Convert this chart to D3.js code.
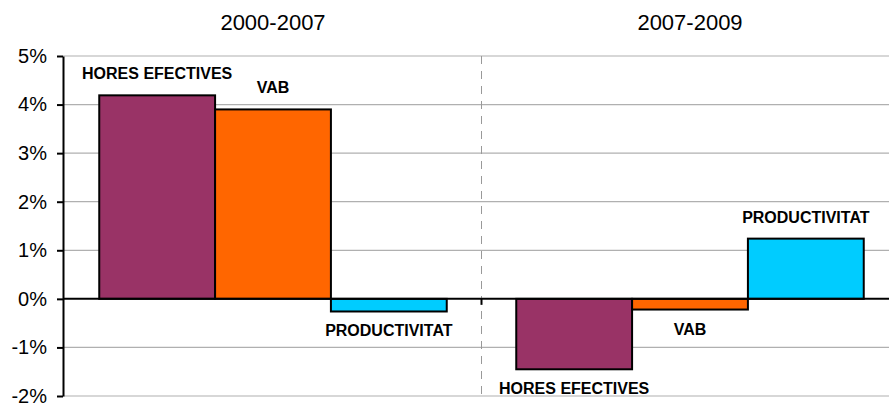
<!DOCTYPE html>
<html>
<head>
<meta charset="utf-8">
<script src="https://cdn.jsdelivr.net/npm/d3@7"></script>
<style>
  body { margin: 0; background: #fff; }
  svg { display: block; font-family: "Liberation Sans", Arial, sans-serif; }
</style>
</head>
<body>
<div id="chart"></div>
<script>
var svgWidth = 889;
var svgHeight = 403;

// data
var periods = ["2000-2007", "2007-2009"];
var series = ["HORES EFECTIVES", "VAB", "PRODUCTIVITAT"];
var values2000_2007 = [4.19, 3.90, -0.26];
var values2007_2009 = [-1.45, -0.22, 1.24];
var colors = ["#993366", "#FF6600", "#00CCFF"];
var yTicks = [-2, -1, 0, 1, 2, 3, 4, 5];

var allValues = [values2000_2007, values2007_2009];
var data = [];
periods.forEach(function(p, i) {
    series.forEach(function(s, j) {
        data.push({ period: p, name: s, value: allValues[i][j], color: colors[j] });
    });
});

var plotLeft = 63, plotRight = 889, plotTop = 56, plotBottom = 396;

var svg = d3.select("#chart")
    .append("svg")
    .attr("width", svgWidth)
    .attr("height", svgHeight);

var x0 = d3.scaleBand()
    .domain(periods)
    .range([64.5, 898.5]);

var x1 = d3.scaleBand()
    .domain(series)
    .range([0, x0.bandwidth()])
    .paddingOuter(0.3);

var y = d3.scaleLinear()
    .domain([-2, 5])
    .range([plotBottom, plotTop]);

var dividerX = x0.range()[0] + x0.bandwidth();

// gridlines
svg.append("g").selectAll("line")
    .data(yTicks.filter(d => d !== 0))
    .enter()
    .append("line")
    .attr("x1", plotLeft)
    .attr("x2", plotRight)
    .attr("y1", d => y(d))
    .attr("y2", d => y(d))
    .attr("stroke", "#b0b0b0")
    .attr("stroke-width", 1.2);

// dashed divider between periods
svg.append("line")
    .attr("x1", dividerX)
    .attr("x2", dividerX)
    .attr("y1", plotTop)
    .attr("y2", plotBottom)
    .attr("stroke", "#999")
    .attr("stroke-width", 1)
    .attr("stroke-dasharray", "8,7");

// bars
svg.append("g").selectAll("rect")
    .data(data)
    .enter()
    .append("rect")
    .attr("x", d => x0(d.period) + x1(d.name))
    .attr("y", d => y(Math.max(0, d.value)))
    .attr("width", x1.bandwidth())
    .attr("height", d => Math.abs(y(d.value) - y(0)))
    .attr("fill", d => d.color)
    .attr("stroke", "#000")
    .attr("stroke-width", 2);

// zero line
svg.append("line")
    .attr("x1", plotLeft)
    .attr("x2", plotRight)
    .attr("y1", y(0))
    .attr("y2", y(0))
    .attr("stroke", "#000")
    .attr("stroke-width", 2);

// tick on zero line at the divider
svg.append("line")
    .attr("x1", dividerX)
    .attr("x2", dividerX)
    .attr("y1", y(0))
    .attr("y2", y(0) + 6)
    .attr("stroke", "#000")
    .attr("stroke-width", 2);

// y axis
var leftAxis = d3.axisLeft(y)
    .tickValues(yTicks)
    .tickFormat(d => d + "%")
    .tickSizeOuter(0)
    .tickSizeInner(6)
    .tickPadding(10);

var yAxis = svg.append("g")
    .attr("transform", `translate(${plotLeft}, 0)`)
    .call(leftAxis);
yAxis.select(".domain").attr("stroke", "#000").attr("stroke-width", 2);
yAxis.selectAll(".tick line").attr("stroke", "#000").attr("stroke-width", 2);
yAxis.selectAll(".tick text")
    .attr("font-size", "20px")
    .attr("font-family", "Liberation Sans, Arial, sans-serif")
    .attr("fill", "#000");

// period labels
svg.append("g").selectAll("text")
    .data(periods)
    .enter()
    .append("text")
    .attr("x", d => x0(d) + x0.bandwidth() / 2)
    .attr("y", 30)
    .attr("text-anchor", "middle")
    .attr("font-size", "22px")
    .attr("fill", "#000")
    .text(d => d);

// bar labels
svg.append("g").selectAll("text")
    .data(data)
    .enter()
    .append("text")
    .attr("x", d => x0(d.period) + x1(d.name) + x1.bandwidth() / 2)
    .attr("y", d => d.value >= 0 ? y(d.value) - 16 : y(d.value) + 25)
    .attr("text-anchor", "middle")
    .attr("font-size", "16px")
    .attr("font-weight", "bold")
    .attr("fill", "#000")
    .text(d => d.name);
</script>
</body>
</html>
